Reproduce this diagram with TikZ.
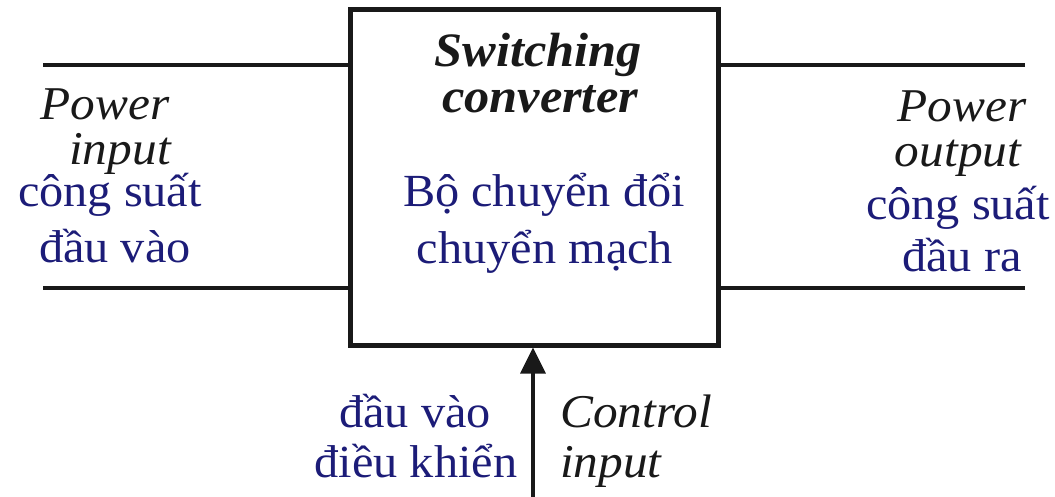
\documentclass[tikz,border=0pt]{standalone}
\usepackage{fontspec}
\setmainfont{Liberation Serif}[FakeStretch=1.05]
\usetikzlibrary{arrows.meta}
\definecolor{ink}{RGB}{25,25,25}
\definecolor{viet}{RGB}{28,28,120}
\tikzset{
  wire/.style={draw=ink, line width=4pt},
  block/.style={draw=ink, line width=5pt, fill=white, minimum width=368pt, minimum height=335pt, inner sep=0pt},
  en/.style={inner sep=0pt, anchor=base, text=ink, font=\fontsize{47}{52}\selectfont\itshape},
  entitle/.style={en, font=\fontsize{48}{52}\selectfont\bfseries\itshape},
  vi/.style={inner sep=0pt, anchor=base, text=viet, font=\fontsize{46}{52}\selectfont},
}
\begin{document}
\begin{tikzpicture}[x=1pt,y=-1pt]
  \useasboundingbox (0,0) rectangle (1055,497);

  % converter block
  \node[block] (conv) at (534,177.5) {};

  % power terminals
  \coordinate (inTop) at (43,65);
  \coordinate (inBot) at (43,288);
  \coordinate (outTop) at (1025,65);
  \coordinate (outBot) at (1025,288);
  \draw[wire] (inTop) -- (inTop -| conv.west);
  \draw[wire] (inBot) -- (inBot -| conv.west);
  \draw[wire] (outTop) -- (outTop -| conv.east);
  \draw[wire] (outBot) -- (outBot -| conv.east);

  % control arrow
  \coordinate (ctl) at (533,497);
  \draw[draw=ink, line width=3.5pt, -{Triangle[length=26pt,width=25pt]}] (ctl) -- (ctl |- conv.south);

  % block labels
  \node[entitle] (t1) at (538,67) {Switching};
  \node[entitle] (t2) at (540,113) {converter};
  \node[vi] (t3) at (544,207) {Bộ chuyển đổi};
  \node[vi] (t4) at (545,263) {chuyển mạch};

  % input labels
  \node[en] (i1) at (105,120) {Power};
  \node[en] (i2) at (120,165) {input};
  \node[vi] (i3) at (110,207) {công suất};
  \node[vi] (i4) at (115,262) {đầu vào};

  % output labels
  \node[en] (o1) at (962,122) {Power};
  \node[en] (o2) at (958,167) {output};
  \node[vi] (o3) at (958,220) {công suất};
  \node[vi] (o4) at (962,272) {đầu ra};

  % control labels
  \node[vi] (c1) at (415,427) {đầu vào};
  \node[vi] (c2) at (416,477) {điều khiển};
  \node[en, anchor=base west] (c3) at (560,427) {Control};
  \node[en, anchor=base west] (c4) at (560,477) {input};
\end{tikzpicture}
\end{document}
